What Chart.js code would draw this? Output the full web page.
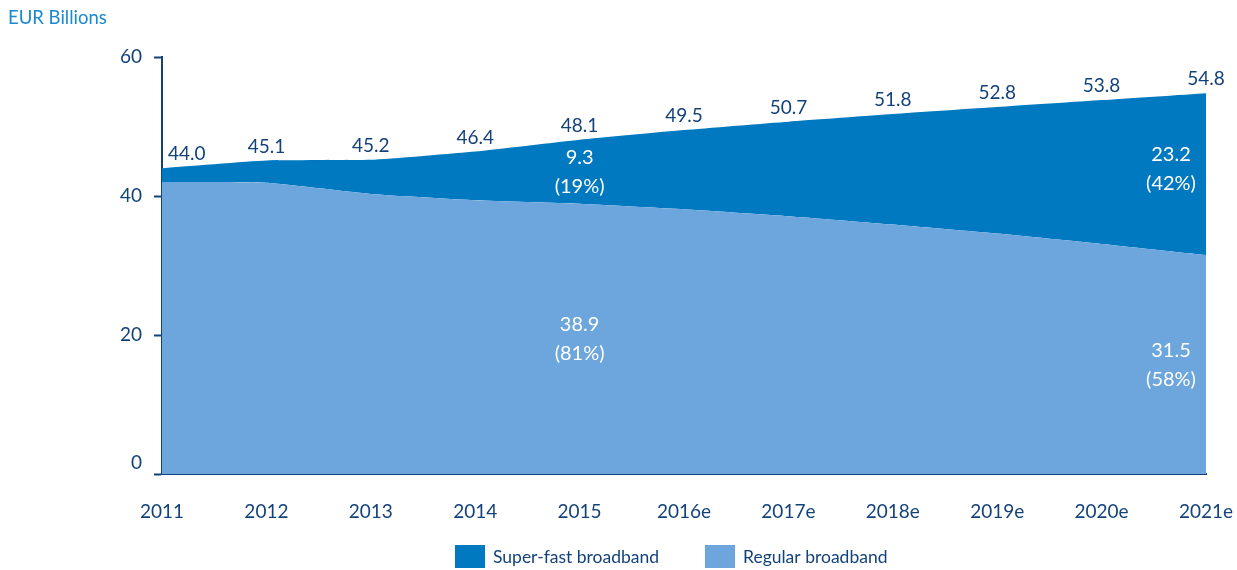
<!DOCTYPE html>
<html>
<head>
<meta charset="utf-8">
<script src="https://cdn.jsdelivr.net/npm/chart.js@4"></script>
<style>
  html, body { margin: 0; padding: 0; background: #ffffff; }
  #wrap { width: 1237px; height: 570px; }
</style>
</head>
<body>
<div id="wrap"><canvas id="c" width="1237" height="570"></canvas></div>
<script>
// ---- data ----
const categories = ['2011', '2012', '2013', '2014', '2015', '2016e', '2017e', '2018e', '2019e', '2020e', '2021e'];
const regularBroadband = [42.0, 41.9, 40.3, 39.4, 38.9, 38.1, 37.1, 35.9, 34.6, 33.1, 31.5];
const superFastBroadband = [2.0, 3.2, 4.9, 7.0, 9.2, 11.4, 13.6, 15.9, 18.2, 20.7, 23.3];
const totalLabels = ['44.0', '45.1', '45.2', '46.4', '48.1', '49.5', '50.7', '51.8', '52.8', '53.8', '54.8'];
const yTicks = [0, 20, 40, 60];
// inner callouts: [datasetIndex, categoryIndex, line1, line2]
const callouts = [
  [1, 4, '9.3', '(19%)'],
  [0, 4, '38.9', '(81%)'],
  [1, 10, '23.2', '(42%)'],
  [0, 10, '31.5', '(58%)']
];
const seriesNames = ['Regular broadband', 'Super-fast broadband'];
const unitLabel = 'EUR Billions';

const NAVY = '#13427a';
const SUPER = '#0079c1';
const REGULAR = '#6ca6dc';
const FONT = 'Lato, "Open Sans", sans-serif';

const labelPlugin = {
  id: 'labels',
  afterDatasetsDraw(chart) {
    const ctx = chart.ctx;
    const x = chart.scales.x, y = chart.scales.y;
    ctx.save();
    // totals above the stack
    ctx.fillStyle = NAVY;
    ctx.font = '19px ' + FONT;
    ctx.textBaseline = 'middle';
    totalLabels.forEach((t, i) => {
      const total = regularBroadband[i] + superFastBroadband[i];
      const px = x.getPixelForValue(i);
      const py = y.getPixelForValue(total) - 14;
      if (i === 0) { ctx.textAlign = 'left'; ctx.fillText(t, px + 6, py); }
      else { ctx.textAlign = 'center'; ctx.fillText(t, px, py); }
    });
    // inner callouts
    ctx.fillStyle = '#ffffff';
    ctx.textAlign = 'center';
    ctx.font = '20px ' + FONT;
    callouts.forEach(([ds, i, l1, l2]) => {
      const lo = ds === 0 ? 0 : regularBroadband[i];
      const hi = ds === 0 ? regularBroadband[i] : regularBroadband[i] + superFastBroadband[i];
      const mid = y.getPixelForValue((lo + hi) / 2);
      let px = x.getPixelForValue(i);
      if (i === categories.length - 1) px -= 35;
      const dy = ds === 1 && i === categories.length - 1 ? -6 : 0;
      ctx.fillText(l1, px, mid - 14 + dy);
      ctx.fillText(l2, px, mid + 15 + dy);
    });
    // zero tick label (sits just above the baseline)
    ctx.fillStyle = NAVY;
    ctx.font = '19px ' + FONT;
    ctx.textAlign = 'right';
    ctx.fillText(String(yTicks[0]), y.left + y.width - 8 - 12, y.getPixelForValue(yTicks[0]) - 11);
    ctx.restore();
  },
  afterDraw(chart) {
    const ctx = chart.ctx;
    ctx.save();
    // unit label
    ctx.fillStyle = '#1a8ad0';
    ctx.font = '18.5px ' + FONT;
    ctx.textAlign = 'left';
    ctx.textBaseline = 'middle';
    ctx.fillText(unitLabel, 8, 18);
    // legend
    const items = [
      [seriesNames[1], SUPER, 455],
      [seriesNames[0], REGULAR, 705]
    ];
    ctx.font = '17.5px ' + FONT;
    items.forEach(([name, col, lx]) => {
      ctx.fillStyle = col;
      ctx.fillRect(lx, 545, 30, 23);
      ctx.fillStyle = NAVY;
      ctx.fillText(name, lx + 38, 557);
    });
    ctx.restore();
  }
};

new Chart(document.getElementById('c'), {
  type: 'line',
  data: {
    labels: categories,
    datasets: [
      {
        label: seriesNames[0],
        data: regularBroadband,
        backgroundColor: REGULAR,
        borderColor: REGULAR,
        borderWidth: 0,
        fill: 'origin',
        pointRadius: 0,
        tension: 0.15
      },
      {
        label: seriesNames[1],
        data: superFastBroadband,
        backgroundColor: SUPER,
        borderColor: SUPER,
        borderWidth: 0,
        fill: '-1',
        pointRadius: 0,
        tension: 0.15
      }
    ]
  },
  options: {
    responsive: false,
    animation: false,
    devicePixelRatio: 1,
    layout: { padding: { top: 57, right: 31, bottom: 40, left: 0 } },
    plugins: {
      legend: { display: false },
      tooltip: { enabled: false },
      title: { display: false }
    },
    scales: {
      x: {
        offset: false,
        grid: { display: false, drawTicks: false },
        border: { display: true, color: NAVY, width: 2 },
        ticks: { color: NAVY, font: { family: FONT, size: 19 }, padding: 26, maxRotation: 0, autoSkip: false },
        afterFit(scale) { scale.height = 56; scale.paddingRight = 0; scale.paddingLeft = 0; }
      },
      y: {
        stacked: true,
        min: 0,
        max: 60,
        afterBuildTicks(scale) { scale.ticks = yTicks.map(v => ({ value: v })); },
        grid: { drawOnChartArea: false, drawTicks: true, tickLength: 8, color: NAVY, tickWidth: 2 },
        border: { display: true, color: NAVY, width: 2 },
        ticks: {
          color: NAVY, font: { family: FONT, size: 19 }, padding: 12,
          callback: (v) => (v === yTicks[0] ? '' : String(v))
        },
        afterFit(scale) { scale.width = 162; }
      }
    }
  },
  plugins: [labelPlugin]
});
</script>
</body>
</html>
